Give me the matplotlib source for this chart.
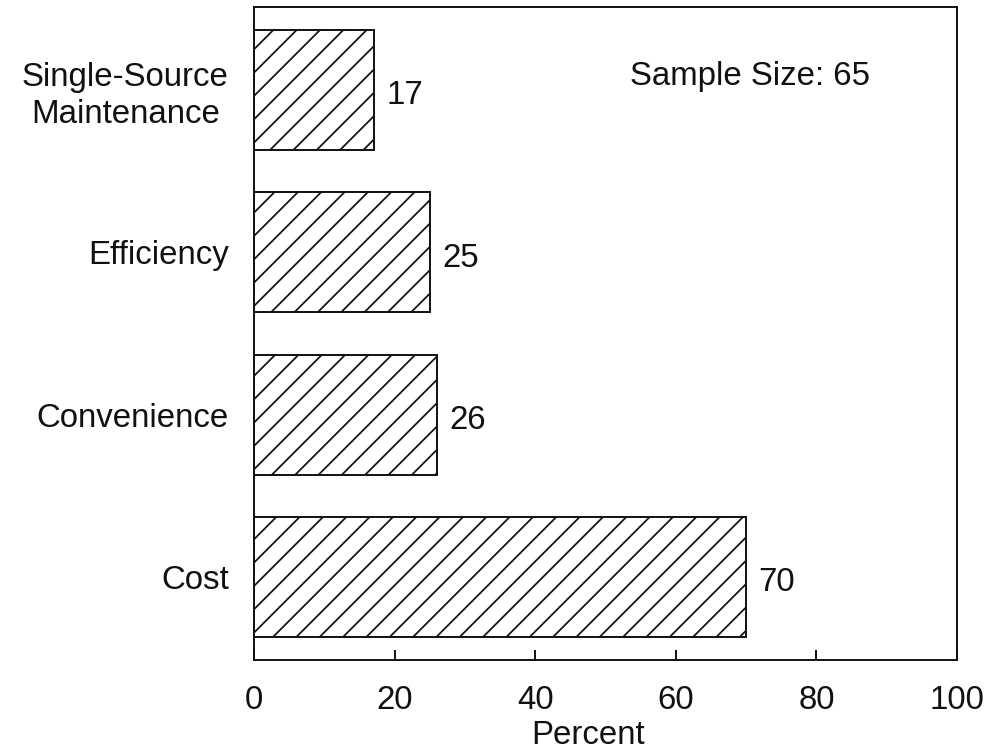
import matplotlib
matplotlib.use("Agg")
import matplotlib.pyplot as plt

categories = ["Cost", "Convenience", "Efficiency", "Single-Source\nMaintenance"]
percents = [70, 26, 25, 17]
xticks = [0, 20, 40, 60, 80, 100]
sampleNote = "Sample Size: 65"

DPI = 140
FS = 17
plt.rcParams["font.family"] = ["Liberation Sans", "DejaVu Sans"]
plt.rcParams["hatch.linewidth"] = 0.9
plt.rcParams["hatch.color"] = "#111111"

fig = plt.figure(figsize=(991 / DPI, 751 / DPI), dpi=DPI)
ax = fig.add_axes([0.2563, 0.1212, 0.7094, 0.8695])

yPos = range(len(categories))
bars = ax.barh(yPos, percents, height=0.74, color="white", edgecolor="#111111",
               linewidth=1.0, hatch="//")

for bar, val in zip(bars, percents):
    ax.annotate(str(val), (bar.get_width(), bar.get_y() + bar.get_height() / 2),
                xytext=(6.5, -3), textcoords="offset points",
                ha="left", va="center", fontsize=FS, color="#111111")

ax.set_xlim(0, 100)
ax.set_ylim(-0.51, 3.51)
ax.set_xticks(xticks)
ax.set_yticks(list(yPos))
ax.set_yticklabels(categories, multialignment="center", linespacing=1.25)
ax.tick_params(axis="x", direction="in", length=5, width=1.0, pad=13,
               labelsize=FS, colors="#111111")
ax.tick_params(axis="y", length=0, pad=13, labelsize=FS, colors="#111111")
ax.set_xlabel("Percent", fontsize=FS, color="#111111")
ax.xaxis.set_label_coords(0.475, -0.092)

for sp in ax.spines.values():
    sp.set_linewidth(1.0)
    sp.set_color("#111111")

ax.text(0.535, 0.893, sampleNote, transform=ax.transAxes, ha="left", va="center",
        fontsize=FS, color="#111111")

fig.savefig("out.png", dpi=DPI, facecolor="white")
